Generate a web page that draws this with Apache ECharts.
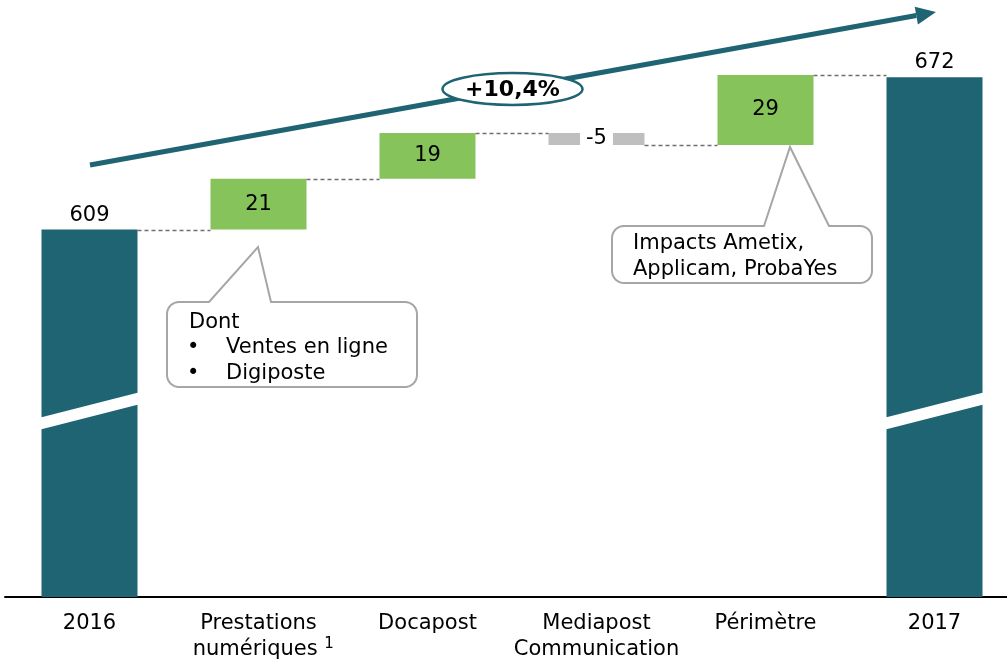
<!DOCTYPE html>
<html>
<head>
<meta charset="utf-8">
<script src="https://cdn.jsdelivr.net/npm/echarts@6/dist/echarts.min.js"></script>
<style>
html,body{margin:0;padding:0;background:#fff;}
#chart{width:1007px;height:662px;}
</style>
</head>
<body>
<div id="chart"></div>
<script>
// ---- data ----
const categories = ['2016', 'Prestations\nnumériques', 'Docapost', 'Mediapost\nCommunication', 'Périmètre', '2017'];
const startValue = 609;
const endValue = 672;
const deltas = [21, 19, -5, 29];
const growthLabel = '+10,4%';
const note1Title = 'Dont';
const note1Items = ['Ventes en ligne', 'Digiposte'];
const note2Lines = ['Impacts Ametix,', 'Applicam, ProbaYes'];
const breakValue = 534;

// ---- styles ----
const FONT = 'DejaVu Sans';
const TEAL = '#1F6473';
const GREEN = '#86C35A';
const GREY = '#BFBFBF';
const yMin = 457, yMax = 704;
const BAR_W = 96;
const FS = 21;

// ---- build series data ----
const totals = [startValue, '-', '-', '-', '-', endValue];
const placeholder = ['-'];
const floating = ['-'];
const levels = [startValue];
let cum = startValue;
deltas.forEach(function (d) {
  const low = Math.min(cum, cum + d);
  placeholder.push(low);
  floating.push({
    value: Math.abs(d),
    delta: d,
    itemStyle: { color: d < 0 ? GREY : GREEN },
    label: d < 0 ? { backgroundColor: '#fff', padding: [2, 6, 2, 6] } : {}
  });
  cum += d;
  levels.push(cum);
});
placeholder.push('-');
floating.push('-');
const connectorData = levels.map(function (v, i) { return [i, v]; });
const breakData = [[0, breakValue], [categories.length - 1, breakValue]];

const chart = echarts.init(document.getElementById('chart'), null, { renderer: 'canvas' });

function arcPts(cx, cy, r, a0, a1, pts) {
  const n = 8;
  for (let k = 0; k <= n; k++) {
    const a = a0 + (a1 - a0) * k / n;
    pts.push([cx + r * Math.cos(a), cy + r * Math.sin(a)]);
  }
}
function calloutPoints(x0, y0, x1, y1, r, p1, tx, ty, p2) {
  const pts = [];
  pts.push([x0 + r, y0], [p1, y0], [tx, ty], [p2, y0], [x1 - r, y0]);
  arcPts(x1 - r, y0 + r, r, -Math.PI / 2, 0, pts);
  arcPts(x1 - r, y1 - r, r, 0, Math.PI / 2, pts);
  arcPts(x0 + r, y1 - r, r, Math.PI / 2, Math.PI, pts);
  arcPts(x0 + r, y0 + r, r, Math.PI, Math.PI * 1.5, pts);
  return pts;
}

// arrow geometry
const aStart = [90, 165], aTip = [936, 12];
const dx = aTip[0] - aStart[0], dy = aTip[1] - aStart[1];
const len = Math.sqrt(dx * dx + dy * dy);
const ux = dx / len, uy = dy / len, nx = -uy, ny = ux;
const headL = 20, headW = 9;
const bc = [aTip[0] - headL * ux, aTip[1] - headL * uy];

function txt(x, y, s) {
  return {
    type: 'text', z: 12, x: x, y: y,
    style: { text: s, fontFamily: FONT, fontSize: FS, fill: '#000', verticalAlign: 'middle' }
  };
}

const option = {
  animation: false,
  grid: { left: 5, right: -12, top: 0, bottom: 65, outerBoundsMode: 'none', containLabel: false },
  xAxis: {
    type: 'category',
    data: categories,
    axisLine: { lineStyle: { color: '#000', width: 2 } },
    axisTick: { show: false },
    axisLabel: {
      interval: 0,
      color: '#000',
      fontFamily: FONT,
      fontSize: FS,
      lineHeight: 26,
      margin: 14,
      formatter: function (v) {
        if (v.indexOf('Prestations') === 0) {
          return 'Prestations\n{sp|1}numériques {sup|1}';
        }
        return v;
      },
      rich: {
        sup: { fontFamily: FONT, fontSize: 15, lineHeight: 15, verticalAlign: 'top', color: '#000' },
        sp: { fontFamily: FONT, fontSize: 15, color: 'rgba(0,0,0,0)' }
      }
    }
  },
  yAxis: { type: 'value', min: yMin, max: yMax, show: false },
  series: [
    {
      type: 'bar',
      name: 'totals',
      data: totals,
      barWidth: BAR_W,
      barGap: '-100%',
      itemStyle: { color: TEAL },
      label: { show: true, position: 'top', distance: 4, color: '#000', fontFamily: FONT, fontSize: FS },
      z: 2
    },
    {
      type: 'bar',
      name: 'base',
      stack: 'wf',
      data: placeholder,
      barWidth: BAR_W,
      barGap: '-100%',
      itemStyle: { color: 'rgba(0,0,0,0)' },
      silent: true,
      z: 2
    },
    {
      type: 'bar',
      name: 'delta',
      stack: 'wf',
      data: floating,
      barWidth: BAR_W,
      barGap: '-100%',
      label: {
        show: true,
        position: 'inside',
        color: '#000',
        fontFamily: FONT,
        fontSize: FS,
        formatter: function (p) { return p.data && p.data.delta !== undefined ? String(p.data.delta) : ''; }
      },
      z: 2
    },
    {
      type: 'custom',
      name: 'connectors',
      data: connectorData,
      renderItem: function (params, api) {
        const i = api.value(0);
        if (i >= categories.length - 1) return null;
        const p = api.coord([i, api.value(1)]);
        const band = api.size([1, 0])[0];
        const y = Math.round(p[1]) + 0.5;
        return {
          type: 'line',
          shape: { x1: p[0] + BAR_W / 2, y1: y, x2: p[0] + band - BAR_W / 2, y2: y },
          style: { stroke: '#6F6F6F', lineWidth: 1.3, lineDash: [4, 3] }
        };
      },
      z: 3
    },
    {
      type: 'custom',
      name: 'breaks',
      data: breakData,
      renderItem: function (params, api) {
        const p = api.coord([api.value(0), api.value(1)]);
        const xl = p[0] - BAR_W / 2 - 1, xr = p[0] + BAR_W / 2 + 1;
        const rise = 12.5, th = 6;
        return {
          type: 'polygon',
          shape: { points: [[xl, p[1] + rise - th], [xr, p[1] - rise - th], [xr, p[1] - rise + th], [xl, p[1] + rise + th]] },
          style: { fill: '#fff' }
        };
      },
      z: 5
    }
  ],
  graphic: [
    {
      type: 'line', z: 10,
      shape: { x1: aStart[0], y1: aStart[1], x2: bc[0], y2: bc[1] },
      style: { stroke: TEAL, lineWidth: 5 }
    },
    {
      type: 'polygon', z: 10,
      shape: { points: [aTip, [bc[0] + headW * nx, bc[1] + headW * ny], [bc[0] - headW * nx, bc[1] - headW * ny]] },
      style: { fill: TEAL }
    },
    {
      type: 'ellipse', z: 11,
      shape: { cx: 512.5, cy: 89, rx: 70, ry: 16 },
      style: { fill: '#fff', stroke: TEAL, lineWidth: 2.5 }
    },
    {
      type: 'text', z: 12, x: 512.5, y: 90,
      style: { text: growthLabel, fontFamily: FONT, fontSize: 22, fontWeight: 'bold', fill: '#000', align: 'center', verticalAlign: 'middle' }
    },
    {
      type: 'polygon', z: 10,
      shape: { points: calloutPoints(167, 302, 417, 387, 12, 209, 258, 247, 271) },
      style: { fill: '#fff', stroke: '#A6A6A6', lineWidth: 2 }
    },
    txt(189, 323, note1Title),
    txt(187, 348, '•'),
    txt(226, 348, note1Items[0]),
    txt(187, 374, '•'),
    txt(226, 374, note1Items[1]),
    {
      type: 'polygon', z: 10,
      shape: { points: calloutPoints(612, 226, 872, 283, 12, 764, 790, 147, 829) },
      style: { fill: '#fff', stroke: '#A6A6A6', lineWidth: 2 }
    },
    txt(633, 244, note2Lines[0]),
    txt(633, 270, note2Lines[1])
  ]
};

chart.setOption(option);
</script>
</body>
</html>
